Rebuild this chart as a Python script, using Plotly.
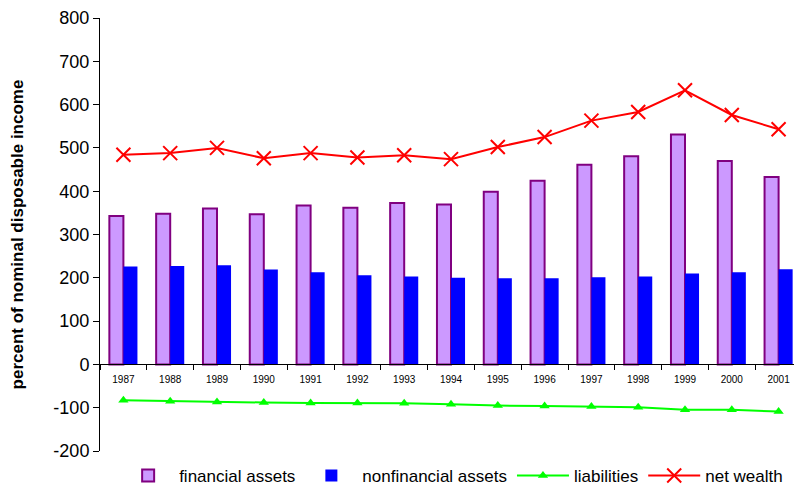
import plotly.graph_objects as go

# values (percent of nominal disposable income)
years = ["1987", "1988", "1989", "1990", "1991", "1992", "1993", "1994",
         "1995", "1996", "1997", "1998", "1999", "2000", "2001"]
financial_assets = [343, 348, 360, 347, 367, 362, 373, 369, 399, 424, 461, 481, 531, 470, 433]
nonfinancial_assets = [226, 227, 229, 219, 213, 206, 203, 200, 199, 199, 201, 203, 210, 213, 220]
liabilities = [-83, -85, -87, -88, -89, -89, -90, -92, -95, -96, -97, -99, -105, -105, -109]
net_wealth = [484, 488, 500, 476, 488, 478, 483, 474, 502, 525, 563, 583, 633, 576, 543]
y_ticks = [-200, -100, 0, 100, 200, 300, 400, 500, 600, 700, 800]

fig = go.Figure()
fig.add_trace(go.Bar(x=years, y=financial_assets, name="financial assets",
                     marker=dict(color="#CC99FF", line=dict(color="#800080", width=2))))
fig.add_trace(go.Bar(x=years, y=nonfinancial_assets, name="nonfinancial assets",
                     marker=dict(color="#0000FF", line=dict(color="#0000FF", width=0))))
fig.add_trace(go.Scatter(x=years, y=liabilities, name="liabilities", mode="lines+markers",
                         line=dict(color="#00FF00", width=2),
                         marker=dict(symbol="triangle-up", size=9, color="#00FF00")))
fig.add_trace(go.Scatter(x=years, y=net_wealth, name="net wealth", mode="lines+markers",
                         line=dict(color="#FF0000", width=2),
                         marker=dict(symbol="x-thin", size=14, line=dict(color="#FF0000", width=2))))

# page body adds an 8px offset, so the figure is drawn 8px smaller than the window
fig.update_layout(
    width=794, height=481,
    margin=dict(l=92, r=0, t=10, b=38, autoexpand=False),
    plot_bgcolor="white", paper_bgcolor="white",
    font=dict(family="Liberation Sans, Arial", color="black"),
    barmode="group", bargap=0.4, bargroupgap=0,
    legend=dict(orientation="h", x=0.56, xanchor="center", y=0.027, yanchor="middle",
                yref="container", xref="container",
                font=dict(size=17), traceorder="normal", itemwidth=52),
    xaxis=dict(anchor="free", position=0.2, range=[-0.5, len(years) - 0.5],
               showline=True, linecolor="black", linewidth=1,
               ticks="outside", ticklen=5, tickcolor="black", tickson="boundaries",
               ticklabelstandoff=6,
               tickfont=dict(size=10), showgrid=False, zeroline=False, automargin=False),
    yaxis=dict(range=[-200, 800], tickvals=y_ticks, ticktext=[str(v) for v in y_ticks],
               showline=True, linecolor="black", linewidth=1, automargin=False,
               ticks="outside", ticklen=6, tickcolor="black", tickfont=dict(size=18),
               showgrid=False, zeroline=False,
               title=dict(text="<b>percent of nominal disposable income</b>",
                          font=dict(size=17), standoff=38)),
)

fig.write_html("out.html")
